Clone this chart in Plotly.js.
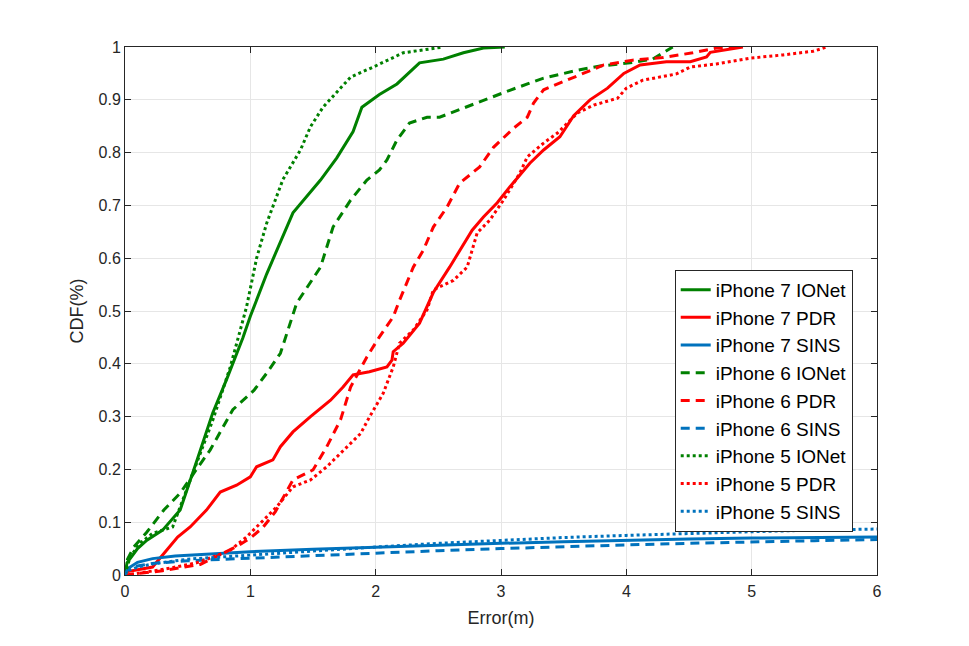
<!DOCTYPE html>
<html>
<head>
<meta charset="utf-8">
<script src="https://cdn.plot.ly/plotly-3.0.1.min.js"></script>
<style>html,body{margin:0;padding:0;background:#fff;}#chart{width:969px;height:646px;}</style>
</head>
<body>
<div id="chart"></div>
<script>
// ---- data ----
const seriesNames = ["iPhone 7 IONet","iPhone 7 PDR","iPhone 7 SINS","iPhone 6 IONet","iPhone 6 PDR","iPhone 6 SINS","iPhone 5 IONet","iPhone 5 PDR","iPhone 5 SINS"];

const ip7IONetX = [0,0.016,0.1,0.175,0.3,0.44,0.575,0.7,0.81,0.94,1.0,1.13,1.34,1.56,1.69,1.82,1.89,2.03,2.17,2.35,2.54,2.70,2.86,3.03];
const ip7IONetY = [0,0.023,0.05,0.066,0.085,0.123,0.218,0.307,0.37,0.449,0.49,0.57,0.686,0.748,0.79,0.84,0.886,0.91,0.93,0.97,0.977,0.989,0.998,1.0];

const ip7PDRX = [0,0.01,0.22,0.33,0.42,0.52,0.60,0.65,0.76,0.89,1.0,1.05,1.18,1.24,1.34,1.48,1.64,1.74,1.82,1.95,2.09,2.13,2.14,2.22,2.35,2.46,2.59,2.70,2.77,2.86,2.97,3.07,3.15,3.23,3.34,3.47,3.58,3.71,3.85,3.98,4.11,4.32,4.51,4.64,4.67,4.93];
const ip7PDRY = [0,0.006,0.015,0.047,0.072,0.091,0.11,0.123,0.157,0.17,0.186,0.205,0.218,0.243,0.271,0.3,0.331,0.356,0.379,0.385,0.394,0.407,0.423,0.439,0.477,0.535,0.583,0.625,0.653,0.678,0.705,0.735,0.757,0.78,0.805,0.83,0.87,0.9,0.922,0.95,0.966,0.972,0.972,0.981,0.99,1.0];

const ip7SINSX = [0,0.02,0.1,0.22,0.4,0.7,1.0,1.5,2.0,2.5,3.0,3.5,4.0,4.5,5.0,5.5,6.0];
const ip7SINSY = [0,0.012,0.024,0.031,0.036,0.040,0.044,0.049,0.053,0.057,0.060,0.063,0.066,0.068,0.070,0.071,0.072];

const ip6IONetX = [0,0.02,0.07,0.17,0.31,0.44,0.57,0.68,0.86,1.03,1.13,1.24,1.37,1.56,1.66,1.80,1.93,2.03,2.09,2.17,2.27,2.41,2.51,2.65,2.86,3.07,3.34,3.61,3.79,4.03,4.21,4.37];
const ip6IONetY = [0,0.03,0.053,0.08,0.123,0.155,0.2,0.237,0.313,0.35,0.382,0.42,0.515,0.583,0.659,0.71,0.748,0.767,0.786,0.824,0.856,0.867,0.867,0.88,0.9,0.918,0.941,0.956,0.964,0.97,0.977,1.0];

const ip6PDRX = [0,0.3,0.6,0.78,0.9,1.0,1.1,1.2,1.34,1.50,1.61,1.72,1.80,1.93,2.03,2.14,2.19,2.30,2.38,2.46,2.57,2.67,2.83,2.94,3.10,3.21,3.26,3.34,3.47,3.63,3.82,4.05,4.29,4.53,4.72,4.93];
const ip6PDRY = [0,0.008,0.02,0.041,0.055,0.07,0.09,0.12,0.18,0.199,0.243,0.294,0.356,0.413,0.451,0.489,0.52,0.583,0.615,0.659,0.697,0.742,0.773,0.81,0.846,0.867,0.894,0.919,0.932,0.947,0.966,0.975,0.98,0.989,0.998,1.0];

const ip6SINSX = [0,0.02,0.1,0.22,0.5,1.0,1.5,2.0,2.5,3.0,3.5,4.0,4.5,5.0,5.5,6.0];
const ip6SINSY = [0,0.01,0.017,0.022,0.027,0.032,0.036,0.042,0.046,0.050,0.054,0.057,0.060,0.063,0.065,0.067];

const ip5IONetX = [0,0.04,0.12,0.22,0.38,0.52,0.70,0.84,0.97,1.05,1.13,1.26,1.40,1.48,1.58,1.80,1.98,2.22,2.54];
const ip5IONetY = [0,0.034,0.06,0.079,0.091,0.18,0.293,0.394,0.508,0.60,0.666,0.749,0.805,0.849,0.886,0.943,0.962,0.989,1.0];

const ip5PDRX = [0,0.02,0.36,0.57,0.70,0.84,0.97,1.08,1.21,1.34,1.48,1.61,1.77,1.88,1.95,2.06,2.14,2.19,2.30,2.41,2.46,2.62,2.73,2.81,2.91,3.02,3.15,3.21,3.34,3.45,3.61,3.74,3.93,4.00,4.13,4.40,4.51,4.72,4.99,5.25,5.49,5.60];
const ip5PDRY = [0,0.0,0.013,0.023,0.034,0.047,0.072,0.098,0.129,0.167,0.18,0.205,0.243,0.268,0.299,0.344,0.394,0.439,0.464,0.502,0.54,0.558,0.583,0.648,0.672,0.71,0.761,0.792,0.818,0.837,0.875,0.89,0.903,0.922,0.937,0.949,0.962,0.968,0.979,0.985,0.992,1.0];

const ip5SINSX = [0,0.02,0.1,0.22,0.5,1.0,1.5,2.0,2.5,3.0,3.5,4.0,4.5,5.0,5.5,6.0];
const ip5SINSY = [0,0.008,0.015,0.021,0.030,0.038,0.046,0.053,0.060,0.066,0.071,0.075,0.079,0.082,0.085,0.087];

const xTicks = [0,1,2,3,4,5,6];
const yTicks = [0,0.1,0.2,0.3,0.4,0.5,0.6,0.7,0.8,0.9,1];
const yTickText = ["0","0.1","0.2","0.3","0.4","0.5","0.6","0.7","0.8","0.9","1"];

// ---- styling ----
const GREEN = "#008000", RED = "#FF0000", BLUE = "#0072BD";
const xs = [ip7IONetX, ip7PDRX, ip7SINSX, ip6IONetX, ip6PDRX, ip6SINSX, ip5IONetX, ip5PDRX, ip5SINSX];
const ys = [ip7IONetY, ip7PDRY, ip7SINSY, ip6IONetY, ip6PDRY, ip6SINSY, ip5IONetY, ip5PDRY, ip5SINSY];
const colors = [GREEN, RED, BLUE, GREEN, RED, BLUE, GREEN, RED, BLUE];
const dashes = ["solid","solid","solid","9px,6px","9px,6px","9px,6px","3px,3px","3px,3px","3px,3px"];

const traces = seriesNames.map((n, i) => ({
  x: xs[i], y: ys[i], name: n, type: "scatter", mode: "lines",
  line: {color: colors[i], width: 3, dash: dashes[i]}
}));

const axisCol = "#262626";
const layout = {
  width: 969, height: 646,
  margin: {l: 125, r: 92, t: 47, b: 71},
  paper_bgcolor: "#fff", plot_bgcolor: "#fff",
  font: {family: "Liberation Sans, Arial, sans-serif", size: 16, color: axisCol},
  showlegend: true,
  legend: {x: 0.731, y: 0.578, xanchor: "left", yanchor: "top",
    bgcolor: "#fff", bordercolor: "#262626", borderwidth: 1,
    font: {size: 19, color: "#000"}, tracegroupgap: 0, itemwidth: 30},
  xaxis: {range: [0, 6], tickvals: xTicks, ticks: "inside", ticklen: 6, tickcolor: axisCol,
    showline: true, linecolor: axisCol, linewidth: 1, mirror: "ticks",
    showgrid: true, gridcolor: "#e6e6e6", zeroline: false, ticklabelstandoff: 2,
    title: {text: "Error(m)", font: {size: 18}, standoff: 12}},
  yaxis: {range: [0, 1], tickvals: yTicks, ticktext: yTickText, ticks: "inside", ticklen: 6, tickcolor: axisCol,
    showline: true, linecolor: axisCol, linewidth: 1, mirror: "ticks",
    showgrid: true, gridcolor: "#e6e6e6", zeroline: false,
    title: {text: "CDF(%)", font: {size: 18}, standoff: 10}}
};

Plotly.newPlot("chart", traces, layout, {displayModeBar: false, staticPlot: true});
</script>
</body>
</html>
